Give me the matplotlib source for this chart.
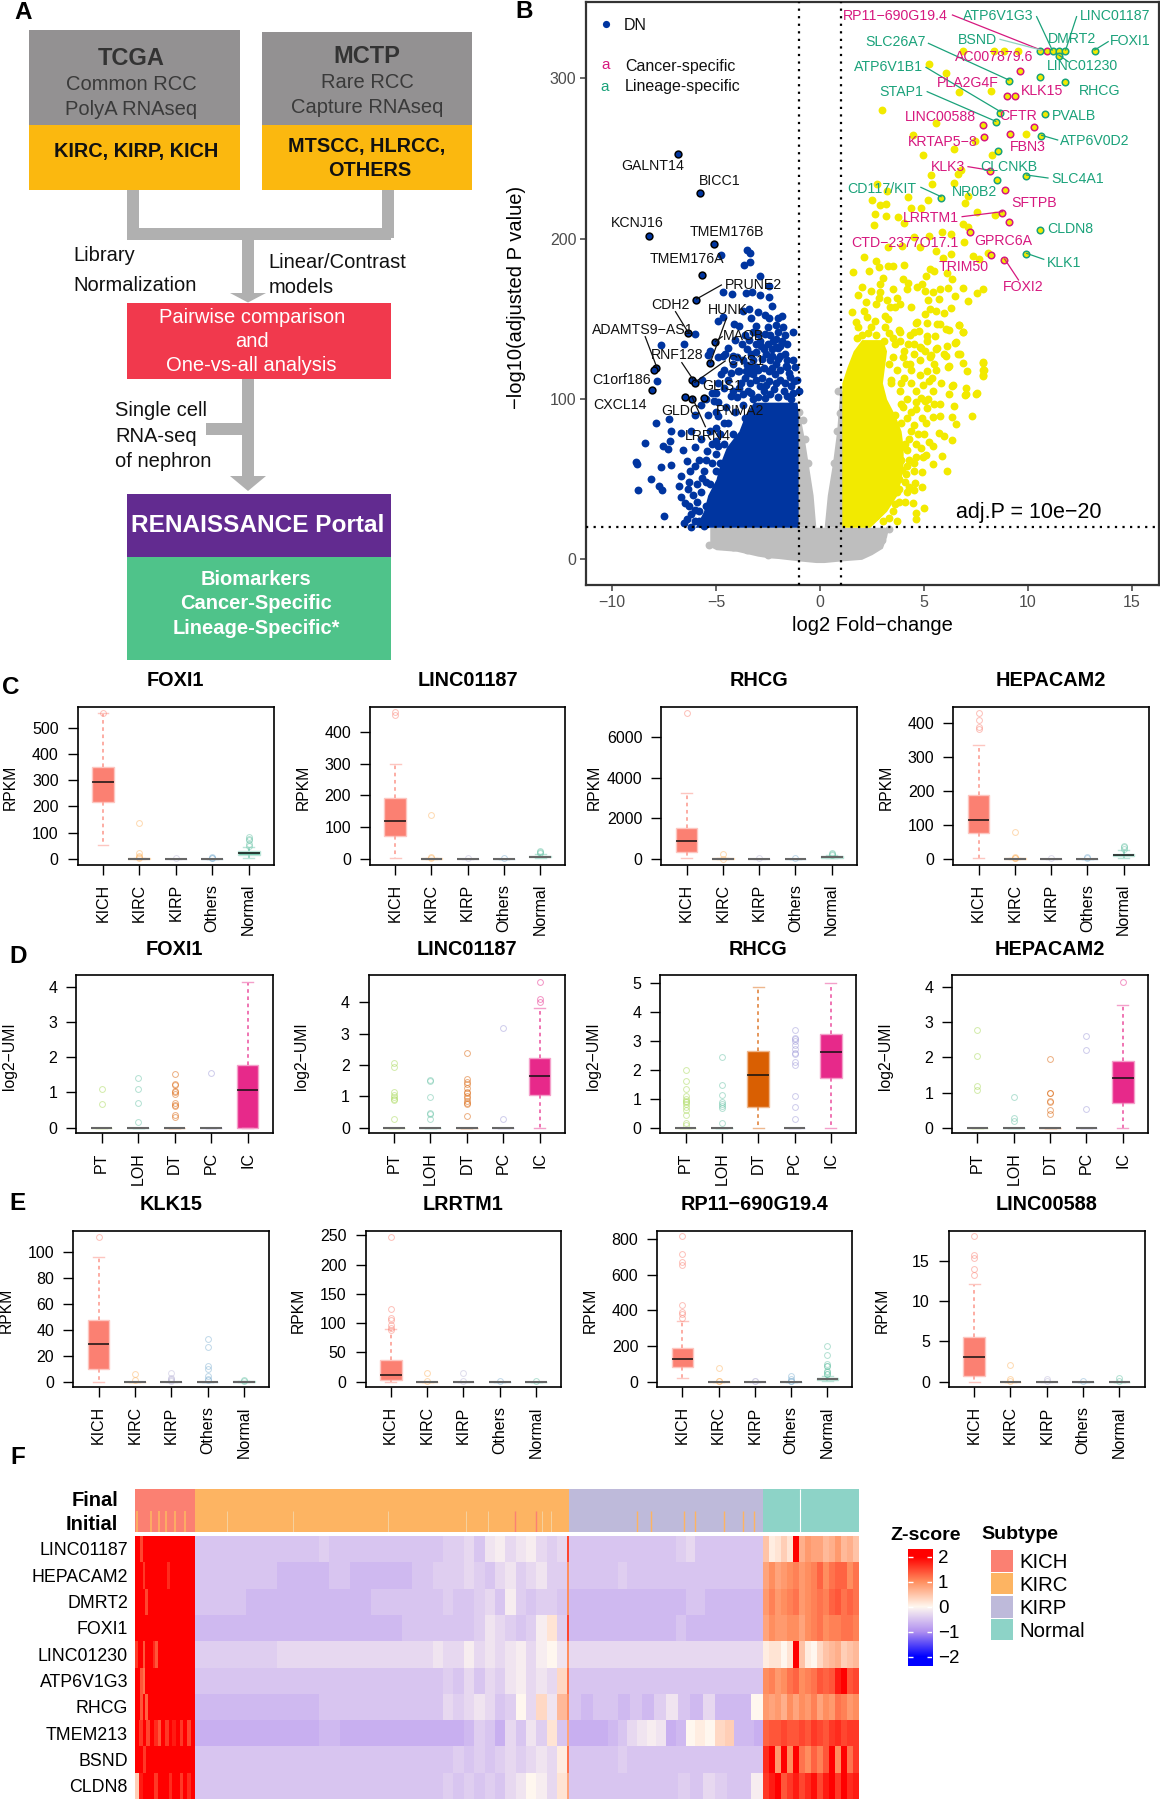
import numpy as np
import matplotlib
matplotlib.use('Agg')
import matplotlib.pyplot as plt
from matplotlib.patches import Rectangle, Polygon
from matplotlib.colors import LinearSegmentedColormap, Normalize

plt.rcParams['font.family'] = ['Liberation Sans', 'DejaVu Sans']

# ---------- Panel B data (log2FC, -log10 adj P) ----------
dn_labelled = [(-6.82,252.9),(-5.79,228.2),(-8.2,201.9),(-5.08,196.5),(-5.69,177),(-5.95,161.8),
               (-6.36,140.9),(-5.04,135.3),(-5.28,122.2),(-7.87,119.5),(-7.98,117.8),(-6.13,111.8),
               (-6.03,109.8),(-8.06,105.8),(-6.5,101.2),(-6.15,100.2),(-5.59,100.4)]
cancer_pts = [(10.9,316.8),(9.6,304.3),(8.97,289.2),(9.37,289.2),(7.85,271),(10.28,269.5),(7.9,263.3),
              (9.13,265.3),(8.18,241.9),(8.9,230.5),(8.77,216.2),(9.07,210.6),(7.19,204),(8.22,190),(8.87,186.7)]
lineage_pts = [(10.6,316.8),(11.2,316.8),(11.5,316.8),(11.8,316.8),(13.2,316.8),(11.5,313.7),(9.07,298),
               (10.6,300.6),(11.8,297.7),(8.66,278.4),(10.8,277.4),(8.44,272.4),(10.65,263.7),(8.56,254.6),
               (9.92,239),(8.52,236.5),(5.81,225.5),(10.57,205.2),(9.92,190.2)]
blue_pts = [(-4.77,189.7),(-3.5,193),(-3.35,191.3),(-3.35,185.7),(-3.65,183.5),(-2.9,176.6),(-4.66,166.9),
 (-4.21,165.4),(-3.57,166.3),(-3.25,166.7),(-2.87,164.8),(-2.45,163.4),(-2.46,170.4),(-2.32,158),(-3.41,156.1),
 (-2.98,154.4),(-2.66,152.4),(-2.46,150.3),(-2.02,150.3),(-1.84,151.5),(-3.33,150.5),(-3.7,155),(-4.66,151),
 (-4.92,148.8),(-4.15,146.8),(-3.9,145.3),(-3.1,145.7),(-6.02,140.5),(-7.66,133.9),(-6.55,134.5),(-1.3,142),
 (-2.98,140.5),(-2.63,140.5),(-2.1,137.4),(-1.85,136.4),(-2.82,133.3),(-2.5,134.3),(-2.1,132.2),(-5.38,127.5),
 (-5.27,130.2),(-4.9,126),(-4.58,128),(-4.74,115.6),(-1.94,127),(-3.94,117.7),(-3.54,117.7),(-3.06,119.8),
 (-2.1,121.9),(-1.6,119.8),(-2.17,115.6),(-1.45,113.6),(-3.22,115.6),(-7.85,111),(-5.69,112),(-7.27,87.8),
 (-7.87,85.3),(-7.15,80),(-6.7,79),(-8.42,72.8),(-7.23,73.9),(-7.55,70.5),(-7.31,68.7),(-5.99,70.3),(-8.83,61),
 (-8.8,59.5),(-7.63,57.3),(-7.15,58.9),(-6.4,61.4),(-6.26,55.2),(-6.7,52),(-8.12,50.4),(-7.75,45.9),(-7.6,43.2),
 (-8.77,43.4),(-6.8,45.9),(-6.36,43.8),(-6.7,38.6),(-7.51,26.8),(-6.56,22.6),(-6.2,20),(-6.2,28),(-5.69,51),
 (-4.98,65.6),(-5.44,67.6),(-4.88,70.7),(-4.98,82),(-4.88,89.4),(-5.08,98.8),(-4.68,126.8),(-3.77,134),(-3.06,134),
 (-2.25,136),(-2.04,132),(-3.26,119.5),(-2.45,117.4),(-1.64,120.5),(-3.87,117.4),(-4.88,110),(-3.36,110),
 (-2.45,111),(-1.23,111),(-1.03,105),(-4.27,101.9),(-3.46,105),(-2.65,100.8),(-1.74,105),(-6.0,31),(-5.8,24),
 (-5.6,21),(-6.3,33),(-5.9,36),(-5.5,33),(-5.7,42),(-5.3,47),(-5.6,55),(-5,55),(-4.8,60),(-4.4,64),(-5.2,60),
 (-4.6,72),(-4.2,78),(-4.4,85),(-4.1,92),(-3.7,96),(-3.6,88),(-3.9,75),(-4.5,95),(-4.2,105),(-3.8,110),(-2.9,108),
 (-2.2,106),(-1.4,100),(-3.2,100),(-2.8,113),(-1.9,112),(-1.2,120),(-2.4,124),(-3.7,124),(-4.2,122),(-1.7,128),
 (-2.8,125),(-5.0,104),(-4.6,118),(-3.3,128),
 (-4.6,107),(-4.4,112),(-4.0,101),(-3.7,103),(-3.3,104),(-3,101),(-2.7,105),(-2.4,103),(-2,101),(-1.6,102),(-1.3,104),
 (-4.3,116),(-3.6,113),(-3.1,112),(-2.6,109),(-2.1,110),(-1.7,110),(-1.4,108),(-1.1,112),(-3.9,107),(-3.4,116),(-3,118),
 (-2.7,119),(-2.3,119),(-1.9,118),(-1.5,116),(-4,126),(-3.5,121),(-3.2,124),(-3.1,129),(-2.6,128),(-2.3,127),(-2.0,125),
 (-1.6,124),(-1.3,124),(-1.9,133),(-1.6,134),(-2.3,131),(-2.7,131),(-2.9,136),(-3.5,131),(-3.4,137),(-2.4,140),(-2.0,142),
 (-1.7,140),(-2.5,145),(-2.1,146),(-1.8,145),(-3.2,142),(-3.6,140),(-4.1,137),(-4.4,132),(-4.2,127),
 (-5.4,90),(-5.0,92),(-5.3,80),(-4.8,78),(-4.6,85),(-5.7,75),(-5.2,72),(-5,74),(-5.8,62),(-5.5,62),(-6,58),(-5.9,47),(-5.5,48),
 (-6.1,40),(-5.8,30),(-6.5,35),(-6.4,25),(-6.0,24),(-6.3,48),(-6.6,68),(-6.2,80),(-6.0,90),(-5.7,96),(-5.5,100),(-5.2,104),(-4.9,98)]
yellow_pts = [(6.86,316.8),(8.38,316.8),(8.83,316.8),(9.53,316.8),(5.26,308.9),(6.07,303.1),(2.98,279.9),(6.66,291.5),
 (8.22,291.9),(5.6,272.2),(4.49,264.3),(7.47,260.8),(6.42,256),(4.96,252.3),(8.28,251.9),(9.9,265),(5.32,239.6),
 (6.8,243),(6.62,240),(5.38,234.2),(6.46,234.6),(2.75,234),(3.22,229.7),(2.51,224),(4.23,225.9),(5.18,224.3),
 (7.13,226.6),(6.96,222.2),(2.88,220.8),(3.17,221.4),(2.64,215.6),(3.17,214.2),(3.73,213.7),(4.4,219),(4.84,219),
 (2.6,208.6),(4.04,210),(5.85,203.8),(6.92,197.6),(3.29,194.5),(4.8,194.5),(5.6,192.4),(6.28,190.3),(8.09,191.3),
 (7.37,189.3),(7.66,187.2),(5.9,187.8),(6.89,209),(7.13,207.3),(8.42,214.5),(7.57,216.4),(6.32,202.7),(5.24,201.7),
 (4.53,201),(3.93,195.4),(2.1,188.2),(1.57,178.9),(2.68,186),(2.85,182.4),(3.29,183),(3.49,182.6),(4.04,183.5),
 (2.34,180),(3.01,175.4),(2.88,171.6),(2.04,170),(1.81,165),(2.45,167),(2.88,166.4),(3.49,168.5),(4,175),(4.21,172),
 (4.2,168.5),(4.65,170),(4.89,171.6),(5.1,176.8),(5.29,181),(5.48,179.5),(6.09,178.3),(6.33,174.7),(5.05,167),
 (5.45,166.4),(5.77,168.5),(6.17,169),(6.86,169),(7.53,166),(7.85,168.5),(7.1,160.8),(6.49,164),(5.74,162.3),
 (5.21,161.9),(3.72,162.9),(3.24,161.7),(2.85,162.7),(2.68,159.2),(2.21,160.2),(1.55,154.4),(2.13,154.6),(2.24,150.9),
 (3.13,151.9),(3.29,149.8),(2.64,148.4),(1.73,148.2),(1.84,144.7),(2.44,144.7),(3.13,144.7),(3.8,143),(4.38,157.5),
 (3.6,157.5),(3.37,157.5),(3.85,159.2),(5.05,153),(5.6,155),(6.3,156.7),(5.96,153.4),(5.29,156),(4.65,147.8),
 (5.13,147.2),(5.77,146.7),(6.7,146.3),(6.86,142),(6.2,143),(5.53,139.5),(5.13,139.5),(4.54,141.5),(6.52,135.7),
 (6.09,132.8),(5.6,131.2),(4.81,132.2),(4.25,134.3),(3.85,136.4),(6.73,128),(5.32,127.4),(5.96,128),(7.82,122.9),
 (6.89,122.3),(6.19,120.4),(7.05,117.7),(7.85,118.3),(7.85,115),(6.38,108.8),(7,107),(7,103.2),(7.53,103.6),(6.22,103.2),
 (3.02,24),(3.68,24),(4.64,25),(4.64,28.6),(5,32),(4.49,34.9),(3.62,34.4),(4.9,45.2),(4.57,47.7),(4.53,43),(3.72,41.7),
 (4.19,41.7),(6.11,55.2),(5.45,59.3),(5.85,64.7),(4.9,54.4),(4.53,55),(4.13,53),(6.36,74.3),(5.71,78.6),(5.95,77),
 (5.24,73.2),(5.45,70.7),(4.84,69.7),(4.94,63.5),(6.52,84.2),(6.36,88.8),(5.75,89.4),(5.45,89),(7.29,89.4),(6.42,95.6),
 (5.75,96.7),(5.14,94.6),(4.64,93.6),(6.96,102.3),(7.51,103),(6.36,108),(5.45,105),(5.04,98.8),(7.83,122.6),(7.87,118),
 (7.83,114.3),(6.15,120),(6.62,127.8),(6.05,126.8),(5.65,132),(6.5,135),(6.86,141.7),(6.66,146),(6.05,143.4),(5.65,146.5),
 (5.04,130),(4.84,132),(5.14,136),(4.53,134),(4.64,147.5),(4.74,142.3),(4.33,140),(3.83,142),(4.13,121.6),(4.33,121.6),
 (4.03,113),(5.14,117.4),(5.24,111),(4.94,109),(4.64,105),(3.83,105),(4.84,100.8),(4.03,130),(3.62,134),(4.2,88),(4.4,80),
 (4.1,72),(3.9,62),(3.8,50),(4.3,62),(3.6,90),(3.9,97),(3.4,110),(3.3,122),(2.9,128),(3.1,136),(2.7,140),
 (3.4,112),(3.7,118),(3.5,126),(4.0,126),(3.9,110),(4.4,110),(4.2,100),(4.6,98),(4.0,95),(4.4,92),(3.9,85),(4.5,84),(4.9,88),
 (5.1,85),(4.7,78),(5,78),(4.3,75),(4.6,72),(3.9,70),(4.2,68),(4.6,64),(5.1,65),(4.2,58),(4.5,60),(4.1,48),(3.8,44),(3.5,30),
 (3.3,26),(2.9,30),(2.7,27),(4.1,36),(3.8,36),(4.3,45),(3.95,56),(5.2,100),(5.5,97),(5.4,113),(5.6,118),(5.8,110),(5.5,122),
 (5.3,126),(4.8,124),(4.5,128),(4.8,115),(4.4,118),(3.5,138),(3.3,141),(2.3,141),(2.0,140),(1.8,138)]
grey_pts = [(-5.32,9),(-5.0,12),(-4.6,14),(-4.2,8),(-3.5,6),(-2.5,3),(-5.0,17),(-4.2,17),(-3.2,15),(2.96,12),(3.02,17.8),(3.3,19),(0.89,105),(0.95,91.5),
 (-0.99,92),(-0.83,87),(-0.7,75),(-0.6,60),(0.8,80),(0.65,60),(-0.9,40),(0.9,40)]

# dense cores of panel B, where single points cannot be told apart: y level and x limits per level
blue_core_y = [20,30,40,50,60,70,80,90,98]
blue_core_lo = [-6.0,-5.6,-5.4,-5.0,-4.8,-4.5,-3.9,-3.6,-3.2]
blue_core_hi = [-1.05,-1.05,-1.05,-1.05,-1.05,-1.05,-1.05,-1.05,-1.1]
yellow_core_y = [20,30,40,50,60,70,80,90,100,110,120,130,137]
yellow_core_lo = [1.05,1.05,1.05,1.05,1.05,1.05,1.05,1.05,1.05,1.05,1.3,1.6,2.0]
yellow_core_hi = [2.4,3.2,3.7,3.9,4.0,4.0,3.9,3.6,3.2,3.0,3.1,3.2,3.0]
grey_left_y = [20,40,60,75,92]
grey_left_lo = [-1.1,-1.1,-1.1,-1.1,-1.1]
grey_left_hi = [-0.2,-0.33,-0.57,-0.75,-1.0]
grey_right_y = [20,40,60,80,105]
grey_right_lo = [0.2,0.35,0.6,0.8,0.95]
grey_right_hi = [1.1,1.1,1.1,1.1,1.1]
grey_base_x = [-5.3,-5,-4,-3,-2.5,-2,-1,-0.2,0,0.2,1,2,2.5,3,3.2,3.3]
grey_base_y = [8,6,5,2,1,0.5,-1,-2,-2,-2,-1,0,3,7,14,20]

# ---------- Panels C-E: each box is (q1, median, q3, lower whisker, upper whisker, outliers) ----------
C_FOXI1 = [(216,293,353,52,557,[557]),(0,0,2,0,3,[137,20,12,5,2]),(0,0,0,0,0,[1]),(0,0,0,0,0,[8,4,1]),(16,22,28,1,46,[50,55,70,75,82])]
C_LINC01187 = [(72,118,191,1,299,[455,462]),(0,0,2,0,3,[138,4,2]),(0,0,0,0,0,[1]),(0,0,0,0,0,[2]),(4,6,9,1,14,[18,22,25])]
C_RHCG = [(330,876,1504,50,3240,[7200]),(0,0,10,0,20,[240,0]),(0,0,0,0,0,[20]),(0,0,0,0,0,[40]),(50,75,110,10,180,[200,250,280])]
C_HEPACAM2 = [(75,114,187,1,334,[383,387,408,430]),(0,0,1,0,2,[78,6,3,1]),(0,0,0,0,0,[1]),(0,0,0,0,0,[4,1]),(7,10,13,1,27,[30,35,38])]
D_FOXI1 = [(0,0,0,0,0,[1.1,.67]),(0,0,0,0,0,[1.4,1.1,.7,.15]),(0,0,0,0,0,[1.53,1.25,1.2,1.05,1.0,.95,.7,.65,.6,.35,.3]),(0,0,0,0,0,[1.54]),(0,1.06,1.77,0,4.13,[])]
D_LINC01187 = [(0,0,0,0,0,[2.07,1.92,1.13,1.03,.97,.92,.88,.28]),(0,0,0,0,0,[1.53,1.5,.98,.47,.44,.27]),(0,0,0,0,0,[2.37,1.55,1.45,1.4,1.28,1.15,1.1,1.0,.95,.85,.8,.75,.37]),(0,0,0,0,0,[3.17,.28]),(1.05,1.66,2.23,0,3.83,[4.65,4.1,4.0])]
D_RHCG = [(0,0,0,0,0,[1.98,1.6,1.33,1.1,1.0,.93,.87,.8,.72,.6,.42,.17,.08]),(0,0,0,0,0,[2.43,1.48,1.12,.87,.8,.75,.67,.15]),(.72,1.8,2.63,0,4.83,[]),(0,0,0,0,0,[3.35,3.1,3.05,3.0,2.85,2.7,2.58,2.55,2.25,2.15,1.1,.72,.3]),(1.7,2.62,3.22,0,5.0,[])]
D_HEPACAM2 = [(0,0,0,0,0,[2.78,2.05,1.18,1.08]),(0,0,0,0,0,[.88,.27,.18]),(0,0,0,0,0,[1.95,1.0,.98,.75,.72,.5,.38]),(0,0,0,0,0,[2.62,2.2,.53]),(.71,1.41,1.89,0,3.5,[4.14])]
E_KLK15 = [(10,29,47.5,0,96,[112]),(0,0,0,0,0,[6,1]),(0,0,0,0,0,[7,3,2,1,.5]),(0,0,0,0,0,[33,27,12,10,4,2,1]),(0,0,.5,0,.7,[1.5,.8])]
E_LRRTM1 = [(2,11,37,0,90,[248,124,108,105,97,92,88]),(0,0,0,0,0,[15,1]),(0,0,0,0,0,[15,1]),(0,0,0,0,0,[1]),(0,0,0,0,0,[1])]
E_RP11 = [(82,127,187,22,338,[815,713,672,652,430,388,378,355]),(0,0,0,0,0,[78,6,2]),(0,0,0,0,0,[3,1]),(0,0,0,0,0,[33,15,6,1]),(10,14,18,3,30,[200,148,100,90,85,60,55,45,40])]
E_LINC00588 = [(.7,3.05,5.5,0,12.1,[18.1,15.7,15.4,14.0,13.3]),(0,0,0,0,0,[2.1,.3,.1]),(0,0,0,0,0,[.3,.1]),(0,0,0,0,0,[.1]),(0,0,0,0,0,[.4,.1])]

tumour_groups = ['KICH','KIRC','KIRP','Others','Normal']
nephron_groups = ['PT','LOH','DT','PC','IC']
tumour_colors = ['#FB8072','#FDB462','#BEBADA','#80B1D3','#66C2A5']
nephron_colors = ['#A6D854','#66C2A5','#D95F02','#9D98D8','#E7298A']

# ---------- Panel F: z-scores in tenths (KICH, KIRC, last KIRC sample, KIRP, Normal) ----------
subtypes = ['KICH','KIRC','KIRP','Normal']
subtype_colors = ['#FB8072','#FDB462','#BEBADA','#8DD3C7']
subtype_sizes = [59.2,374.4,194.5,95.6]
initial_streaks_kirc = [2,16,24,31,40,49.5]
initial_streaks_kirp = [92,158,253,331,353,407,416]
initial_streaks_kich = [380,401]
initial_streaks_orange = [502,515.5,549,560,589,608,619]
normal_gap = [665]
genes = ['LINC01187','HEPACAM2','DMRT2','FOXI1','LINC01230','ATP6V1G3','RHCG','TMEM213','BSND','CLDN8']
z_LINC01187 = ([20,20,15]+[20]*21,
 [-5]*12+[-4]+[-5]*11+[-4,-4,-3,-5,-2,-1,-3,-2,-1,-3,-4,-3],15,
 [-5]*11+[-4,-3]+[-5]*7,
 [5,1,2,4,2,20,7,9,8,8,6,7,9,6,7,5])
z_HEPACAM2 = ([20,20,20,16]+[20]*9+[17]+[20]*10,
 [-5]*8+[-6]*5+[-5]*2+[-6]*6+[-5,-5,-4,-4,-4,-3,-4,-5,-3,-2,-4,-3,-2,-4,-4],10,
 [-5]*5+[-4]+[-5]*14,
 [8,10,8,9,10,11,9,10,11,13,10,12,13,13,10,12])
z_DMRT2 = ([20,20,20,20,15]+[20]*19,
 [-5]*5+[-6]*12+[-5]*7+[-4,-5,-5,-4,-3,-5,-1,-4,-5,-4,-4,-5],10,
 [-6]*12+[-5,-5]+[-6]*6,
 [9,11,9,10,11,12,9,10,11,12,11,13,14,12,13,12])
z_FOXI1 = ([20]*24,
 [-6]*20+[-5]*7+[-4,-2,-3,-4,-5,-4,-1,2,-4],15,
 [-6]*11+[-5]+[-6]*8,
 [8,10,9,9,10,10,8,10,11,12,10,11,11,12,12,11])
z_LINC01230 = ([16,20,20,14]+[20]*3+[17,14]+[20]*15,
 [-4]*8+[-3]*14+[-3,-2,-3,-3,-1,-3,-2,-3,-2,-1,-3,-1,0,-2],10,
 [-3]*20,
 [1,2,2,0,2,20,5,1,0,3,5,6,7,4,5,6])
z_ATP6V1G3 = ([20,20,14,12]+[20]*20,
 [-5]*24+[-4,-5,-3,-5,-3,-4,-2,-1,-3,-2,-3,3],12,
 [-5]*20,
 [10,11,9,10,12,13,10,11,12,14,13,14,18,20,14,15])
z_RHCG = ([20,20,14,20,13]+[20]*19,
 [-6]*12+[-5]*12+[-3,-4,-3,-2,-3,-5,-4,0,-3,3,-2,6],10,
 [-5,-6,-5,-5,-6,-5,-6,-4,-2,-5,-6,-3,-6,-6,-6,0],
 [9,8,9,7,10,8,10,9,11,8,10,9,12,11,9,10])
z_TMEM213 = ([20,16,20,15,20,17,14,20,16,20,18,20,16,20,15,20],
 [-7]*12+[-6]*2+[-7]*10+[-7,-7,-6,-4,-5,-7,-3,-5,-2,-4,2,-5],8,
 [-7,-7,-7,-7,-6,-5,-3,-2,-1,-2,-7,-6,0,1,0,3,4,-6,-6,-7],
 [13,14,14,15,14,14,15,14,16,15,14,16,17,15,16,16])
z_BSND = ([20,20,16]+[20]*13,
 [-5]*24+[-5,-4,-5,-4,-5,-4,-3,-4,-3,-2,-3,1],12,
 [-5]*5+[-4]+[-5]*14,
 [17,20,9,20,10,20,12,10,13,11,14,20,10,20,12,16])
z_CLDN8 = ([4,18,20,20,20,16,20,20,20,17,20,20,16,20,17,20],
 [-5]*24+[-4,-5,-4,-5,-4,-5,-3,-2,0,-1,-3,2],8,
 [-5,-5,-5,-5,-5,-5,-5,-5,-5,-4,-5,-3,-4,-5,-5,-1],
 [16,18,20,14,16,18,15,17,19,15,18,20,16,20,17,18])
z_rows = [z_LINC01187,z_HEPACAM2,z_DMRT2,z_FOXI1,z_LINC01230,z_ATP6V1G3,z_RHCG,z_TMEM213,z_BSND,z_CLDN8]
cbar_ticks = [2,1,0,-1,-2]

# ---------- figure helpers ----------
W, H = 1160, 1800
fig = plt.figure(figsize=(W/100, H/100), dpi=100)
def ax_px(l, t, r, b, **kw):
    return fig.add_axes([l/W, 1-b/H, (r-l)/W, (b-t)/H], **kw)
ov = ax_px(0, 0, W, H, zorder=20)
ov.set_xlim(0, W); ov.set_ylim(H, 0); ov.axis('off'); ov.patch.set_alpha(0)
def T(x, y, s, size=14.5, color='#111111', ha='center', va='center', **kw):
    ov.text(x, y+1.8, s, fontsize=size, color=color, ha=ha, va=va, **kw)
def box(l, t, r, b, c):
    ov.add_patch(Rectangle((l, t), r-l, b-t, facecolor=c, edgecolor='none'))

# ---------- Panel A ----------
GR, OR = '#939192', '#FBB80F'
box(29.3,30.4,240,124.5,GR); box(29.3,124.5,240,190,OR)
box(261.7,31.7,472.3,125,GR); box(261.7,125,472.3,190,OR)
AR = '#B0B0B0'
box(127,190,138.7,240,AR); box(381.7,190,393.7,238,AR); box(127,228,391,240,AR)
box(241.7,240,254,294,AR); ov.add_patch(Polygon([(230,293),(266,293),(248,302.5)],facecolor=AR,edgecolor='none'))
box(241.7,379,254,476,AR); ov.add_patch(Polygon([(230,476),(266,476),(248,491)],facecolor=AR,edgecolor='none'))
box(205.7,422.8,242,435.4,AR)
box(127,302.7,391,379.4,'#F1394D'); box(127,493.5,391,557.2,'#622B90'); box(127,557.2,391,660.4,'#4FC38A')
T(131,57,'TCGA',17,'#333333',fontweight='bold'); T(131,83,'Common RCC',color='#3a3a3a'); T(131,107.5,'PolyA RNAseq',color='#3a3a3a')
T(136,149.6,'KIRC, KIRP, KICH',14.3,fontweight='bold')
T(367,55,'MCTP',17,'#333333',fontweight='bold'); T(367,80.7,'Rare RCC',color='#3a3a3a'); T(367,105.4,'Capture RNAseq',color='#3a3a3a')
T(367,144.4,'MTSCC, HLRCC,',14.3,fontweight='bold'); T(370,168.7,'OTHERS',14.3,fontweight='bold')
T(73,253.7,'Library',ha='left'); T(73,284,'Normalization',ha='left')
T(268.7,260.6,'Linear/Contrast',ha='left'); T(268.7,286,'models',ha='left')
T(251.7,315.7,'Pairwise comparison',color='white'); T(251.7,339.5,'and',color='white'); T(251.7,363.8,'One-vs-all analysis',color='white')
T(115,409,'Single cell',ha='left'); T(115,434.5,'RNA-seq',ha='left'); T(115,459.7,'of nephron',ha='left')
T(258,524,'RENAISSANCE Portal',17.6,'white',fontweight='bold')
T(256,577.6,'Biomarkers',14.5,'white',fontweight='bold'); T(256,602,'Cancer-Specific',14.5,'white',fontweight='bold'); T(256,626.6,'Lineage-Specific*',14.5,'white',fontweight='bold')
for x,y,s in [(22.7,11,'A'),(524,10,'B'),(11,686,'C'),(17.8,955,'D'),(17.8,1201.7,'E'),(17.8,1456,'F')]:
    T(x,y,s,17.5,'black',fontweight='bold')

# ---------- Panel B ----------
axb = ax_px(586,2,1159,585)
axb.set_xlim(-11.25,16.3); axb.set_ylim(-16,347.5)
axb.fill_between(grey_base_x, grey_base_y, [20]*len(grey_base_x), color='#BEBEBE', lw=0, zorder=1)
axb.fill_betweenx(grey_left_y, grey_left_lo, grey_left_hi, color='#BEBEBE', lw=0, zorder=1)
axb.fill_betweenx(grey_right_y, grey_right_lo, grey_right_hi, color='#BEBEBE', lw=0, zorder=1)
axb.fill_betweenx(blue_core_y, blue_core_lo, blue_core_hi, color='#0035A0', lw=0, zorder=2)
axb.fill_betweenx(yellow_core_y, yellow_core_lo, yellow_core_hi, color='#F2EA00', lw=0, zorder=2)
def sc(pts, **kw):
    a = np.array(pts); axb.scatter(a[:,0], a[:,1], **kw)
sc(grey_pts, s=32, c='#BEBEBE', lw=0, zorder=1.5)
sc(blue_pts, s=32, c='#0035A0', lw=0, zorder=3)
sc(yellow_pts, s=32, c='#F2EA00', lw=0, zorder=3)
sc(dn_labelled, s=24, c='#0035A0', edgecolors='black', lw=1.1, zorder=4)
sc(cancer_pts, s=22, c='#F2EA00', edgecolors='#D6187F', lw=1.1, zorder=4)
sc(lineage_pts, s=22, c='#F2EA00', edgecolors='#1AA27A', lw=1.1, zorder=4)
dot = (0,(1,2.4))
for v in (-1,1):
    axb.axvline(v, color='black', lw=1.6, ls=dot, zorder=5)
axb.axhline(20, color='black', lw=1.6, ls=dot, zorder=5)
for s in axb.spines.values():
    s.set_color('#333333'); s.set_linewidth(1.6)
axb.set_xticks([-10,-5,0,5,10,15]); axb.set_yticks([0,100,200,300])
axb.tick_params(labelsize=11.5, colors='#4D4D4D', length=4, width=1.2, pad=3)
T(517,296,'−log10(adjusted P value)',14.5,'black',rotation=90)
T(872,624,'log2 Fold−change',14.5,'black')
T(1029,511,'adj.P = 10e−20',15.5,'black')
MG, GN, BK = '#D6187F', '#1AA27A', '#111111'
def zb(x, y): return 500+x/2.376, y/3
def zc(x, y): return 500+x/2.376, 300+y/3
labels_top = [('RP11−690G19.4',940,45,MG),('ATP6V1G3',1183,45,GN),('LINC01187',1462,45,GN),('SLC26A7',940,125,GN),('BSND',1135,118,GN),
 ('DMRT2',1358,116,GN),('FOXI1',1498,120,GN),('AC007879.6',1173,170,MG),('LINC01230',1385,195,GN),('ATP6V1B1',922,200,GN),('PLA2G4F',1112,248,MG),
 ('KLK15',1288,270,MG),('RHCG',1424,270,GN),('STAP1',953,273,GN),('LINC00588',1047,350,MG),('CFTR',1232,345,MG),('PVALB',1364,346,GN),
 ('ATP6V0D2',1413,422,GN),('KRTAP5−8',1052,424,MG),('FBN3',1255,438,MG),('KLK3',1064,500,MG),('CLCNKB',1208,498,GN),('SLC4A1',1372,534,GN),
 ('CD117/KIT',908,564,GN),('NR0B2',1128,575,GN),('SFTPB',1270,608,MG),('LRRTM1',1024,652,MG),('CLDN8',1355,686,GN),('CTD−2377O17.1',962,726,MG),
 ('GPRC6A',1195,722,MG),('KLK1',1340,787,GN),('TRIM50',1102,798,MG),('FOXI2',1243,860,MG),
 ('GALNT14',363,496,BK),('BICC1',522,540,BK),('KCNJ16',326,667,BK),('TMEM176B',540,693,BK),('TMEM176A',445,776,BK),('PRUNE2',603,852,BK),
 ('CDH2',405,912,BK),('HUNK',542,928,BK)]
labels_low = [('ADAMTS9−AS1',340,88,BK),('MAOB',578,105,BK),('RNF128',420,163,BK),('CYS1',583,180,BK),('C1orf186',290,238,BK),('GLIS1',528,255,BK),
 ('CXCL14',284,314,BK),('GLDC',430,331,BK),('PNMA2',571,330,BK),('LRRN4',493,405,BK)]
for s,x,y,c in labels_top:
    px,py = zb(x,y); T(px,py-1,s,10.2,c)
for s,x,y,c in labels_low:
    px,py = zc(x,y); T(px,py-1,s,10.2,c)
seg_top = [(1075,45,1285,150,MG),(1275,50,1312,150,GN),(1370,50,1344,150,GN),(1445,125,1413,150,GN),(1188,118,1285,150,'#8FD3BE'),
 (1018,130,1209,240,GN),(1012,202,1189,335,GN),(1015,275,1178,364,GN),(1328,165,1350,185,GN),(1325,420,1287,406,GN),(1112,500,1165,511,MG),
 (1302,534,1251,525,GN),(1000,562,1048,590,GN),(1098,650,1194,635,MG),(1232,840,1199,777,MG),(1292,778,1251,760,GN),(526,855,467,897,BK)]
seg_low = [(417,35,447,97,BK),(345,110,372,200,BK),(538,55,500,187,BK),(528,110,512,124,BK),(432,188,458,237,BK),(535,183,463,247,BK),(488,380,457,293,BK)]
for x0,y0,x1,y1,c in seg_top:
    a,b = zb(x0,y0),zb(x1,y1); ov.plot([a[0],b[0]],[a[1],b[1]],color=c,lw=0.9)
for x0,y0,x1,y1,c in seg_low:
    a,b = zc(x0,y0),zc(x1,y1); ov.plot([a[0],b[0]],[a[1],b[1]],color=c,lw=0.9)
px,py = zb(252,72); ov.scatter([px],[py],s=27,c='#0035A0',lw=0)
px,py = zb(295,72); T(px,py,'DN',11.5,'#111111',ha='left')
px,py = zb(250,190); T(px,py,'a',11,MG)
px,py = zb(297,193); T(px,py,'Cancer-specific',11.5,'#111111',ha='left')
px,py = zb(248,257); T(px,py,'a',11,GN)
px,py = zb(297,253); T(px,py,'Lineage-specific',11.5,'#111111',ha='left')

# ---------- Panels C, D, E ----------
def lighten(c, f=0.55):
    rgb = np.array(matplotlib.colors.to_rgb(c)); return tuple(rgb + (1-rgb)*f)
def boxpanel(pos, data, groups, colors, ylim, yticks, title, ylabel):
    l,t,r,b = pos
    ax = ax_px(l,t,r,b)
    stats = [dict(q1=d[0],med=d[1],q3=d[2],whislo=d[3],whishi=d[4],fliers=d[5]) for d in data]
    art = ax.bxp(stats, positions=range(1,6), widths=0.6, capwidths=0.3, patch_artist=True)
    span = ylim[1]-ylim[0]
    for i,c in enumerate(colors):
        lc = lighten(c)
        wc = lighten(c, 0.3)
        art['boxes'][i].set(facecolor=c, edgecolor=lc, linewidth=1.0)
        flat = (data[i][2]-data[i][0]) < 0.012*span
        art['medians'][i].set(color='#666666' if flat else '#111111', linewidth=1.5 if flat else 1.1)
        for w in art['whiskers'][2*i:2*i+2]:
            w.set(color=wc, linestyle=(0,(2,2)), linewidth=1.3)
        for k in art['caps'][2*i:2*i+2]:
            k.set(color=lc, linewidth=1.0)
        art['fliers'][i].set(marker='o', markerfacecolor='none', markeredgecolor=c, alpha=0.5, markersize=4.2, markeredgewidth=0.7)
    ax.set_xlim(0.306,5.69); ax.set_ylim(*ylim)
    ax.set_xticks(range(1,6)); ax.set_xticklabels(groups, rotation=90)
    ax.set_yticks(yticks)
    ax.tick_params(axis='both', labelsize=11.5, length=7.2, width=1.0, pad=6.5)
    for s in ax.spines.values():
        s.set_linewidth(1.2)
    T((l+r)/2, t-28, title, 14.3, 'black', fontweight='bold')
    T(l-67, (t+b)/2, ylabel, 11.3, 'black', rotation=90)

rowC = [(77.7,707,273.7,864.7),(370,707,565.3,864.7),(661.4,707,856.7,864.7),(953.4,707,1148.6,864.7)]
rowD = [(76.2,975.3,272.7,1133.3),(368.8,975.3,564.6,1133.3),(660.3,975.3,856,1133.3),(952.2,975.3,1147.9,1133.3)]
rowE = [(73.3,1230.7,269,1387.3),(365.5,1230.7,561.2,1387.3),(657.3,1230.7,852.5,1387.3),(948.9,1230.7,1144.5,1387.3)]
boxpanel(rowC[0],C_FOXI1,tumour_groups,tumour_colors,(-23,581),[0,100,200,300,400,500],'FOXI1','RPKM')
boxpanel(rowC[1],C_LINC01187,tumour_groups,tumour_colors,(-19,479),[0,100,200,300,400],'LINC01187','RPKM')
boxpanel(rowC[2],C_RHCG,tumour_groups,tumour_colors,(-297,7500),[0,2000,4000,6000],'RHCG','RPKM')
boxpanel(rowC[3],C_HEPACAM2,tumour_groups,tumour_colors,(-17.7,447),[0,100,200,300,400],'HEPACAM2','RPKM')
boxpanel(rowD[0],D_FOXI1,nephron_groups,nephron_colors,(-.16,4.32),[0,1,2,3,4],'FOXI1','log2−UMI')
boxpanel(rowD[1],D_LINC01187,nephron_groups,nephron_colors,(-.18,4.86),[0,1,2,3,4],'LINC01187','log2−UMI')
boxpanel(rowD[2],D_RHCG,nephron_groups,nephron_colors,(-.195,5.25),[0,1,2,3,4,5],'RHCG','log2−UMI')
boxpanel(rowD[3],D_HEPACAM2,nephron_groups,nephron_colors,(-.16,4.34),[0,1,2,3,4],'HEPACAM2','log2−UMI')
boxpanel(rowE[0],E_KLK15,tumour_groups,tumour_colors,(-4.4,116.5),[0,20,40,60,80,100],'KLK15','RPKM')
boxpanel(rowE[1],E_LRRTM1,tumour_groups,tumour_colors,(-9.7,258),[0,50,100,150,200,250],'LRRTM1','RPKM')
boxpanel(rowE[2],E_RP11,tumour_groups,tumour_colors,(-32,846),[0,200,400,600,800],'RP11−690G19.4','RPKM')
boxpanel(rowE[3],E_LINC00588,tumour_groups,tumour_colors,(-.7,18.77),[0,5,10,15],'LINC00588','RPKM')

# ---------- Panel F ----------
cmap = LinearSegmentedColormap.from_list('z',[(0,'#0000FF'),(.25,'#B090F0'),(.5,'#FFF8F0'),(.75,'#FF9060'),(1,'#FF0000')])
norm = Normalize(-2,2)
starts = np.cumsum([0]+subtype_sizes)
axh = ax_px(135.4,1536,859,1799)
axh.set_xlim(0,starts[-1]); axh.set_ylim(len(genes),0); axh.axis('off')
for i,(kich,kirc,last,kirp,nrm) in enumerate(z_rows):
    e_kirc_end = starts[2]-1.6
    blocks = [(starts[0],starts[1],kich),(starts[1],e_kirc_end,kirc),(e_kirc_end,starts[2],[last]),(starts[2],starts[3],kirp),(starts[3],starts[4],nrm)]
    for x0,x1,v in blocks:
        xs = np.linspace(x0,x1,len(v)+1)
        axh.pcolormesh(xs,[i,i+1],np.array(v)[None,:]/10,cmap=cmap,norm=norm,antialiased=False,linewidth=0)
    T(128,1536+(i+.5)*26.3,genes[i],12.8,'black',ha='right')
axa = ax_px(135.4,1489,859,1532)
axa.set_xlim(0,starts[-1]); axa.set_ylim(2,0); axa.axis('off')
for j,c in enumerate(subtype_colors):
    axa.barh([0.5,1.5],subtype_sizes[j],left=starts[j],height=1,color=c,lw=0)
axa.vlines(initial_streaks_kirc,1,2,color=subtype_colors[1],lw=1.2)
axa.vlines(initial_streaks_kirp,1,2,color='#F5D6A8',lw=0.6)
axa.vlines(initial_streaks_kich,1,2,color=subtype_colors[0],lw=1.0)
axa.vlines(initial_streaks_orange,1,2,color=subtype_colors[1],lw=1.0)
axa.vlines(normal_gap,0,2,color='white',lw=0.8)
T(118,1499,'Final',14.5,'black',ha='right',fontweight='bold')
T(118,1523,'Initial',14.5,'black',ha='right',fontweight='bold')
T(926,1534,'Z-score',14,'black',fontweight='bold')
T(981.5,1533,'Subtype',14,'black',fontweight='bold',ha='left')
axc = ax_px(908,1549,932,1665.7)
axc.imshow(np.linspace(2.3,-2.36,200)[:,None],cmap=cmap,norm=norm,aspect='auto',extent=[0,1,-2.36,2.3])
axc.axis('off')
for v in cbar_ticks:
    axc.hlines([v,v],[0,0.8],[0.2,1],color='white',lw=1)
    T(938,1606.7-25*v,str(v).replace('-','−'),13.5,'black',ha='left')
leg_rects = [(1550,1571.7),(1573,1594),(1596,1617.7),(1619,1640)]
for (t,b),c,s in zip(leg_rects,subtype_colors,subtypes):
    box(991,t,1012.6,b,c)
    T(1019,(t+b)/2,s,14.7,'black',ha='left')

fig.savefig('out.png',dpi=100)
